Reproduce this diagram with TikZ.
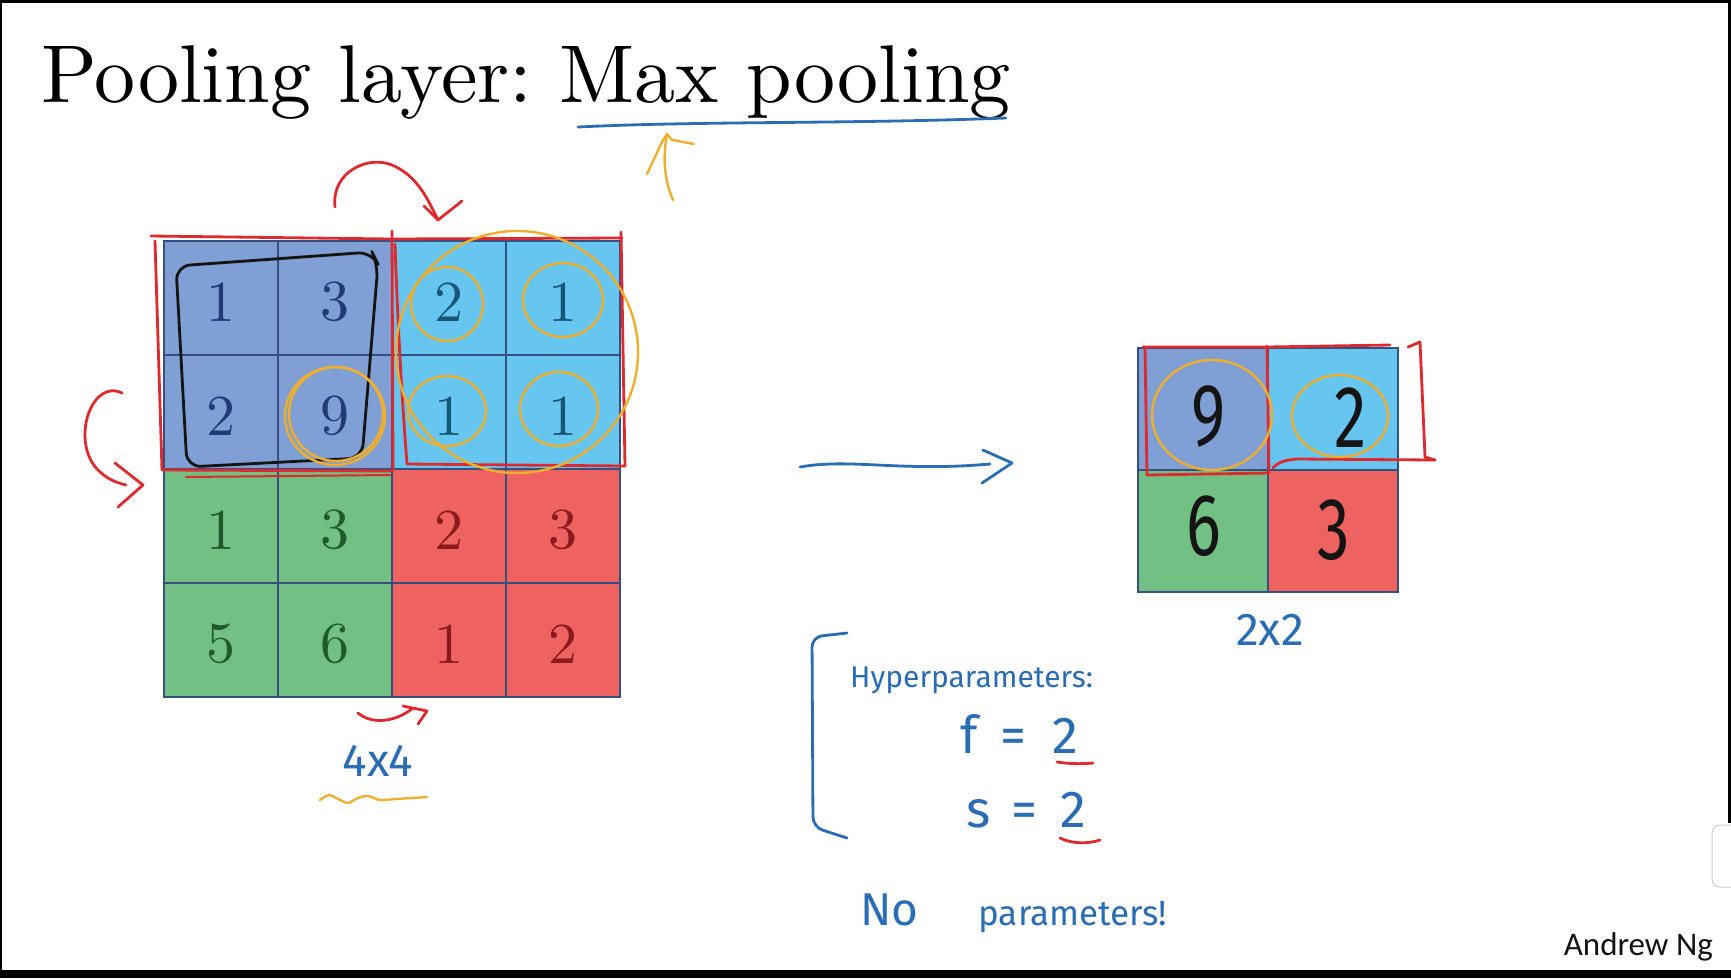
\documentclass[tikz,border=0pt]{standalone}
\usepackage{fontspec}
\newfontfamily\handfont{Fira Sans}
\newfontfamily\romanten{lmroman10-regular}[Extension=.otf]
\newfontfamily\calibfont{Carlito}
\definecolor{cellA}{HTML}{7F9FD5}
\definecolor{cellB}{HTML}{66C6EF}
\definecolor{cellC}{HTML}{72C084}
\definecolor{cellD}{HTML}{EE6262}
\definecolor{numA}{HTML}{1F3B75}
\definecolor{numB}{HTML}{175676}
\definecolor{numC}{HTML}{1E5A2B}
\definecolor{numD}{HTML}{8A1A1D}
\definecolor{gridline}{HTML}{35507E}
\definecolor{penred}{HTML}{DE2A2E}
\definecolor{penorange}{HTML}{F0AE2E}
\definecolor{penblue}{HTML}{2A6DB5}
\definecolor{inkblack}{HTML}{141414}
\begin{document}
\begin{tikzpicture}[x=1pt,y=-1pt,
  pen/.style={line width=2.8pt, line cap=round, line join=round},
  redpen/.style={pen, draw=penred},
  orangepen/.style={pen, draw=penorange, line width=2.4pt},
  bluepen/.style={pen, draw=penblue},
  blackpen/.style={pen, draw=inkblack},
  lcell/.style={draw=gridline, line width=1.8pt, minimum width=114pt, minimum height=114pt, inner sep=0pt},
  rcell/.style={draw=gridline, line width=1.8pt, minimum width=130pt, minimum height=122pt, inner sep=0pt},
  ldigit/.style={font=\romanten\fontsize{58}{58}\selectfont, inner sep=0pt, yshift=-4pt},
  rdigit/.style={font=\handfont\fontsize{88}{88}\selectfont, inner sep=0pt, text=inkblack, xscale=0.74},
  handtext/.style={font=\handfont, text=penblue, inner sep=0pt}
]
\useasboundingbox (0,0) rectangle (1731,978);
\fill[white] (0,0) rectangle (1731,978);

% title
\node[anchor=base west, font=\romanten\fontsize{82}{82}\selectfont, inner sep=0pt] (title) at (41,102) {\frenchspacing Pooling layer: Max pooling};

% left 4x4 grid
\foreach \r/\c/\fc in {1/1/cellA,1/2/cellA,1/3/cellB,1/4/cellB,2/1/cellA,2/2/cellA,2/3/cellB,2/4/cellB,3/1/cellC,3/2/cellC,3/3/cellD,3/4/cellD,4/1/cellC,4/2/cellC,4/3/cellD,4/4/cellD}
  \node[lcell, fill=\fc] (L\r\c) at ({221+114*(\c-1)},{298+114*(\r-1)}) {};
\foreach \r/\c/\v/\tc in {1/1/1/numA,1/2/3/numA,1/3/2/numB,1/4/1/numB,2/1/2/numA,2/2/9/numA,2/3/1/numB,2/4/1/numB,3/1/1/numC,3/2/3/numC,3/3/2/numD,3/4/3/numD,4/1/5/numC,4/2/6/numC,4/3/1/numD,4/4/2/numD}
  \node[ldigit, text=\tc] (D\r\c) at (L\r\c.center) {\v};

% right 2x2 grid
\node[rcell, fill=cellA] (R11) at (1203,409) {};
\node[rcell, fill=cellB] (R12) at (1333,409) {};
\node[rcell, fill=cellC] (R21) at (1203,531) {};
\node[rcell, fill=cellD] (R22) at (1333,531) {};
\node[rdigit] (E11) at (1209,417) {9};
\node[rdigit] (E12) at (1351,418) {2};
\node[rdigit] (E21) at (1204,526) {6};
\node[rdigit] (E22) at (1334,530) {3};

% underline of title and orange arrow
\draw[bluepen] (578,127) .. controls (700,121) and (850,124) .. (1006,118);
\draw[orangepen] (673,200) .. controls (662,175) and (664,150) .. (667,134);
\draw[orangepen] (647,174) -- (662,142) -- (667,134) -- (672,140) -- (694,144);

% red curved arrow above grid
\draw[redpen] (335,207) .. controls (331,172) and (368,155) .. (392,165) .. controls (418,176) and (428,200) .. (438,220);
\draw[redpen] (424,206) -- (438,220) -- (462,201);

% red curved arrow at left
\draw[redpen] (122,393) .. controls (102,383) and (84,408) .. (85,437) .. controls (86,465) and (104,480) .. (126,485);
\draw[redpen] (115,463) -- (143,485) -- (118,507);

% red rectangles around top half
\draw[redpen] (151,236) -- (392,239) -- (622,238);
\draw[redpen] (155,241) -- (162,470) -- (392,471);
\draw[redpen] (392,231) -- (393,470);
\draw[redpen] (395,244) .. controls (398,330) and (402,400) .. (407,464) -- (625,466) -- (621,232);
\draw[redpen, line width=2pt] (186,477) -- (390,475);

% black rounded box
\draw[blackpen, rounded corners=14pt] (176,266) -- (372,252) -- (378,264) -- (362,458) -- (187,467) -- cycle;

% orange circles
\draw[orangepen] (335,416) ellipse [x radius=50, y radius=49];
\draw[orangepen] (336,414) ellipse [x radius=47, y radius=47];
\draw[orangepen] (447,304) ellipse [x radius=36, y radius=37];
\draw[orangepen] (563,300) ellipse [x radius=40, y radius=37];
\draw[orangepen] (447,411) ellipse [x radius=39, y radius=35];
\draw[orangepen] (559,409) ellipse [x radius=39, y radius=37];
\draw[orangepen, rotate around={-8:(517,352)}] (517,352) ellipse [x radius=121, y radius=121];

% small red arrow and 4x4 label
\draw[redpen] (358,713) .. controls (372,725) and (396,722) .. (413,708);
\draw[redpen] (403,706) -- (427,711) -- (418,724);
\node[handtext, font=\handfont\fontsize{46}{46}\selectfont] (lab44) at (378,761) {4x4};
\draw[orangepen] plot[smooth] coordinates {(320,800) (329,795) (338,799) (348,803) (358,798) (368,796) (380,800) (396,799) (427,797)};

% big blue arrow
\coordinate (arrS) at (800,467);
\coordinate (arrE) at (1012,463);
\draw[bluepen] (arrS) .. controls (850,458) and (900,472) .. (990,464);
\draw[bluepen] (983,450) -- (arrE) -- (982,483);

% red marks on right grid
\draw[redpen] (1143,347) -- (1267,347) -- (1390,345);
\draw[redpen] (1145,348) -- (1147,475) -- (1269,473) -- (1267,346);
\draw[redpen] (1408,347) -- (1420,342) -- (1425,457) -- (1435,460) -- (1297,459) .. controls (1285,460) and (1278,462) .. (1273,468);
\draw[orangepen] (1212,415) ellipse [x radius=60, y radius=55];
\draw[orangepen] (1340,416) ellipse [x radius=48, y radius=41];
\node[handtext, font=\handfont\fontsize{46}{46}\selectfont] (lab22) at (1270,630) {2x2};

% hyperparameters block
\draw[bluepen, rounded corners=10pt] (847,633) -- (812,637) -- (813,827) -- (847,838);
\node[handtext, anchor=base west, font=\handfont\fontsize{30}{30}\selectfont] (hyp) at (850,687) {Hyperparameters:};
\node[handtext, anchor=base west, font=\handfont\fontsize{52}{52}\selectfont] (feq) at (960,753) {f\hspace{0.45em}=\hspace{0.5em}2};
\node[handtext, anchor=base west, font=\handfont\fontsize{52}{52}\selectfont] (seq) at (966,827) {s\hspace{0.4em}=\hspace{0.45em}2};
\draw[redpen] (1057,762) .. controls (1070,764) and (1082,764) .. (1093,763);
\draw[redpen] (1060,838) .. controls (1072,844) and (1088,844) .. (1100,840);
\node[handtext, anchor=base west, font=\handfont\fontsize{35}{35}\selectfont] (nopar) at (860,925) {{\fontsize{46}{46}\selectfont No}\hspace{60pt}parameters!};

% author
\node[anchor=base east, font=\calibfont\fontsize{33}{33}\selectfont, text=inkblack, inner sep=0pt] (author) at (1713,955) {Andrew Ng};

% frame
\fill[black] (0,0) rectangle (1731,3);
\fill[black] (0,0) rectangle (2,978);
\fill[black] (0,970) rectangle (1731,978);
\fill[black] (1728,0) rectangle (1731,823);
\draw[gray!40, line width=1pt, rounded corners=8pt] (1740,825) -- (1712,825) -- (1712,887) -- (1740,887);
\end{tikzpicture}
\end{document}
